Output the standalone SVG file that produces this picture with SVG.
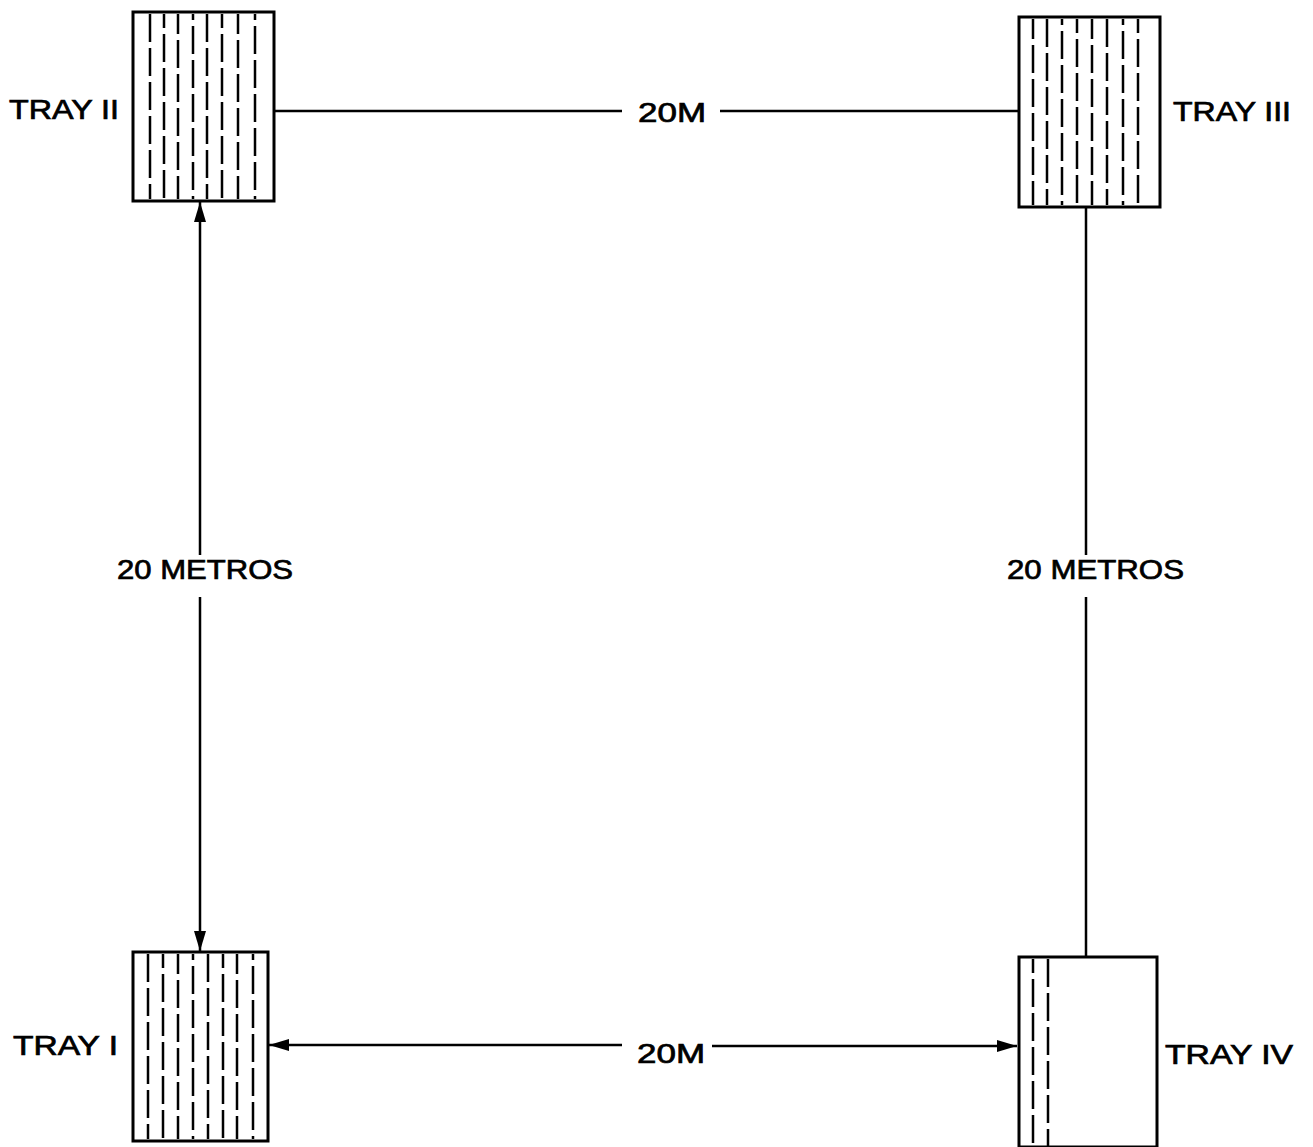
<svg xmlns="http://www.w3.org/2000/svg" width="1313" height="1147" viewBox="0 0 1313 1147">
<defs>
<style>
.box{fill:#fff;stroke:#000;stroke-width:3}
.hatch{stroke:#000;stroke-width:2.5;stroke-dasharray:28 6;fill:none}
.h2{stroke-dashoffset:14}
.h3{stroke-dashoffset:8}
.h4{stroke-dashoffset:22}
.ln{stroke:#000;stroke-width:2.5;fill:none}
.lbl{font-family:"Liberation Sans",Arial,sans-serif;font-size:27px;fill:#000;stroke:#000;stroke-width:0.7}
</style>
<marker id="ah" viewBox="0 0 20 12" refX="20" refY="6" markerWidth="20" markerHeight="12" markerUnits="userSpaceOnUse" orient="auto-start-reverse">
<path d="M0,0 L20,6 L0,12 Z" fill="#000"/>
</marker>
</defs>
<rect width="1313" height="1147" fill="#fff"/>
<g id="connectors">
<line class="ln" x1="274" y1="111" x2="622" y2="111"/>
<line class="ln" x1="720" y1="111" x2="1019" y2="111"/>
<line class="ln" x1="1086" y1="207" x2="1086" y2="555"/>
<line class="ln" x1="1086" y1="597" x2="1086" y2="957"/>
<line class="ln" x1="200" y1="555" x2="200" y2="202" marker-end="url(#ah)"/>
<line class="ln" x1="200" y1="597" x2="200" y2="951" marker-end="url(#ah)"/>
<line class="ln" x1="622" y1="1045" x2="269" y2="1045" marker-end="url(#ah)"/>
<line class="ln" x1="712" y1="1046" x2="1017" y2="1046" marker-end="url(#ah)"/>
<text class="lbl" x="638" y="122" textLength="68" lengthAdjust="spacingAndGlyphs">20M</text>
<text class="lbl" x="637" y="1063" textLength="68" lengthAdjust="spacingAndGlyphs">20M</text>
<text class="lbl" x="117" y="579" textLength="176" lengthAdjust="spacingAndGlyphs">20 METROS</text>
<text class="lbl" x="1007" y="579" textLength="177" lengthAdjust="spacingAndGlyphs">20 METROS</text>
</g>
<g id="tray2">
<rect class="box" x="133" y="12" width="141" height="189"/>
<line class="hatch" x1="150" y1="14" x2="150" y2="199"/>
<line class="hatch h2" x1="164" y1="14" x2="164" y2="199"/>
<line class="hatch h3" x1="178" y1="14" x2="178" y2="199"/>
<line class="hatch h4" x1="193" y1="14" x2="193" y2="199"/>
<line class="hatch" x1="207" y1="14" x2="207" y2="199"/>
<line class="hatch h2" x1="222" y1="14" x2="222" y2="199"/>
<line class="hatch h3" x1="238" y1="14" x2="238" y2="199"/>
<line class="hatch h4" x1="255" y1="14" x2="255" y2="199"/>
<text class="lbl" x="9" y="119" textLength="110" lengthAdjust="spacingAndGlyphs">TRAY II</text>
</g>
<g id="tray3">
<rect class="box" x="1019" y="17" width="141" height="190"/>
<line class="hatch h3" x1="1033" y1="19" x2="1033" y2="205"/>
<line class="hatch" x1="1047" y1="19" x2="1047" y2="205"/>
<line class="hatch h4" x1="1062" y1="19" x2="1062" y2="205"/>
<line class="hatch h2" x1="1077" y1="19" x2="1077" y2="205"/>
<line class="hatch h3" x1="1092" y1="19" x2="1092" y2="205"/>
<line class="hatch" x1="1107" y1="19" x2="1107" y2="205"/>
<line class="hatch h4" x1="1123" y1="19" x2="1123" y2="205"/>
<line class="hatch h2" x1="1138" y1="19" x2="1138" y2="205"/>
<text class="lbl" x="1173" y="121" textLength="118" lengthAdjust="spacingAndGlyphs">TRAY III</text>
</g>
<g id="tray1">
<rect class="box" x="133" y="952" width="135" height="189"/>
<line class="hatch" x1="148" y1="954" x2="148" y2="1139"/>
<line class="hatch h2" x1="163" y1="954" x2="163" y2="1139"/>
<line class="hatch h3" x1="178" y1="954" x2="178" y2="1139"/>
<line class="hatch h4" x1="193" y1="954" x2="193" y2="1139"/>
<line class="hatch" x1="208" y1="954" x2="208" y2="1139"/>
<line class="hatch h2" x1="223" y1="954" x2="223" y2="1139"/>
<line class="hatch h3" x1="237" y1="954" x2="237" y2="1139"/>
<line class="hatch h4" x1="253" y1="954" x2="253" y2="1139"/>
<text class="lbl" x="13" y="1055" textLength="105" lengthAdjust="spacingAndGlyphs">TRAY I</text>
</g>
<g id="tray4">
<rect class="box" x="1019" y="957" width="138" height="190"/>
<line class="hatch h2" x1="1033" y1="959" x2="1033" y2="1146"/>
<line class="hatch" x1="1048" y1="959" x2="1048" y2="1146"/>
<text class="lbl" x="1165" y="1064" textLength="128" lengthAdjust="spacingAndGlyphs">TRAY IV</text>
</g>
</svg>
